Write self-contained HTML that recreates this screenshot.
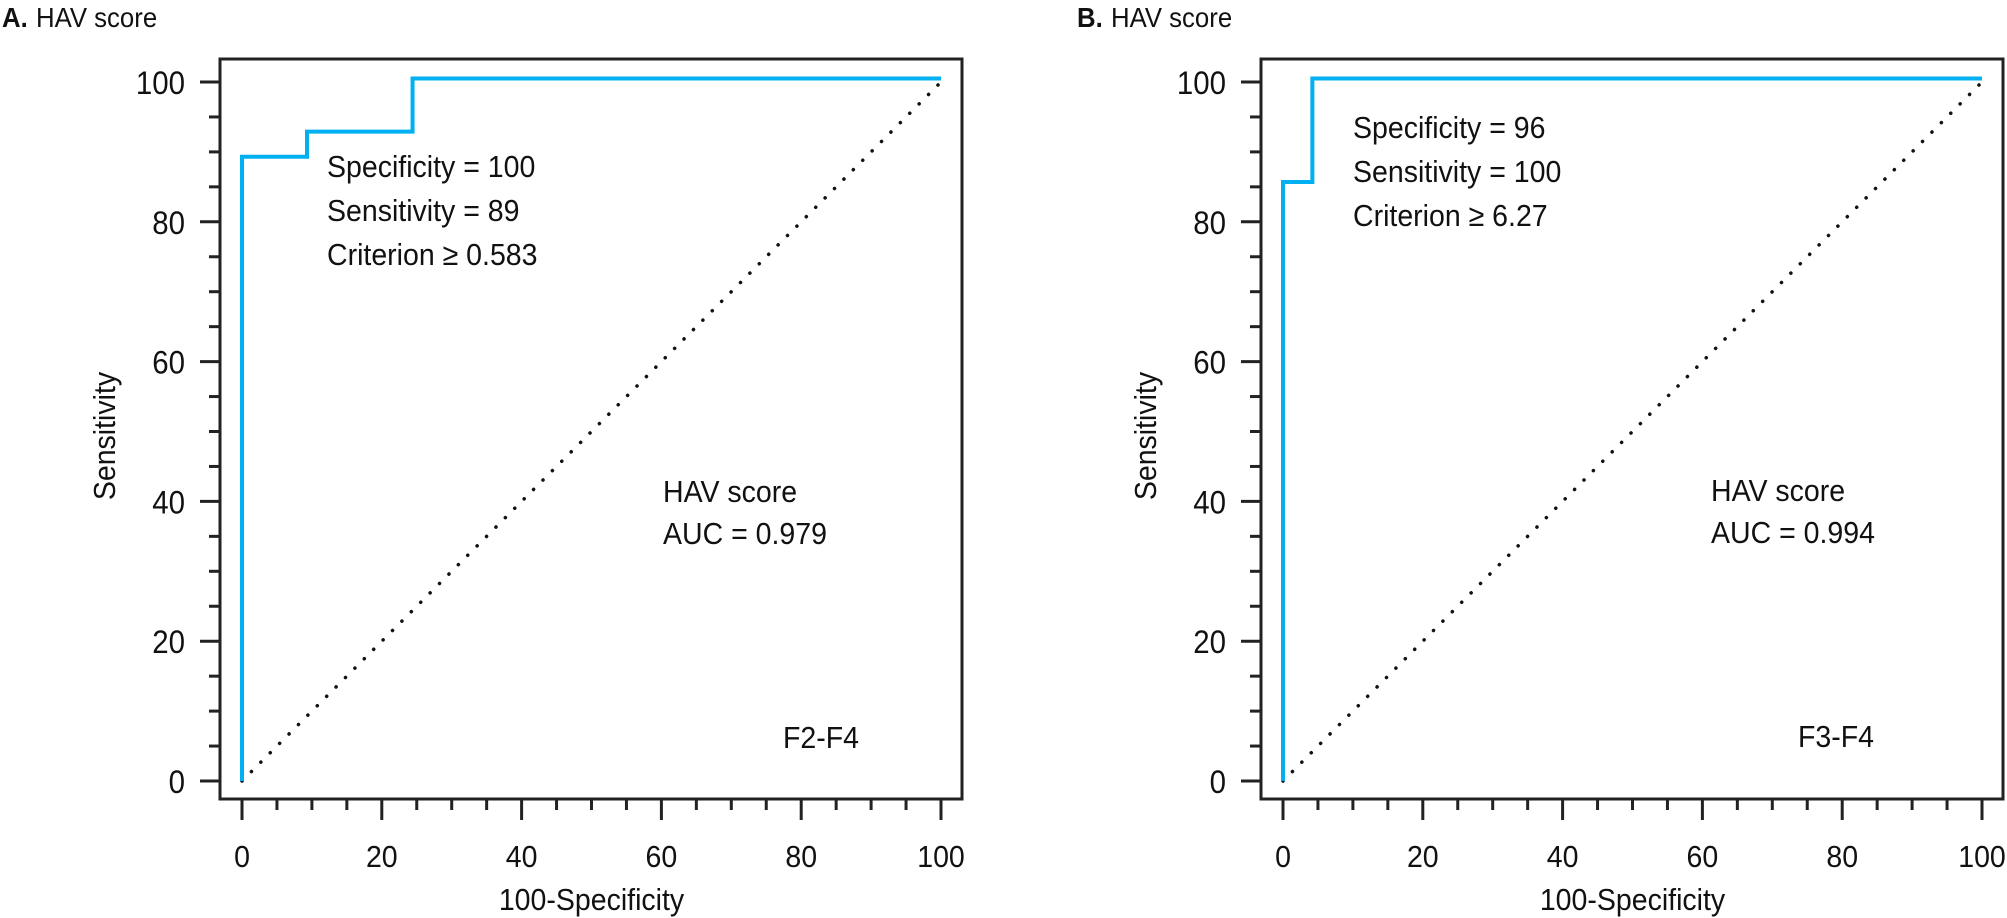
<!DOCTYPE html>
<html><head><meta charset="utf-8"><style>
html,body{margin:0;padding:0;background:#fff;}
svg{display:block;}
text{font-family:"Liberation Sans",sans-serif;fill:#111;}
</style></head>
<body>
<svg id="chart" width="2007" height="918" viewBox="0 0 2007 918" xmlns="http://www.w3.org/2000/svg"></svg>
<script>
// ---- data ----
const xTicks = [0, 20, 40, 60, 80, 100];
const yTicks = [0, 20, 40, 60, 80, 100];
const rocA_x = [0, 0, 9.3, 9.3, 24.4, 24.4, 100];
const rocA_y = [0, 89.3, 89.3, 92.9, 92.9, 100.5, 100.5];
const rocB_x = [0, 0, 4.2, 4.2, 100];
const rocB_y = [0, 85.7, 85.7, 100.5, 100.5];
const annotA = ["Specificity = 100", "Sensitivity = 89", "Criterion \u2265 0.583"];
const annotB = ["Specificity = 96", "Sensitivity = 100", "Criterion \u2265 6.27"];
const aucA = ["HAV score", "AUC = 0.979"];
const aucB = ["HAV score", "AUC = 0.994"];

const NS = "http://www.w3.org/2000/svg";
const svg = document.getElementById('chart');
function mk(tag, attrs, parent) {
  const e = document.createElementNS(NS, tag);
  for (const k in attrs) e.setAttribute(k, attrs[k]);
  (parent || svg).appendChild(e);
  return e;
}
function txt(g, s, x, y, size, anchor, weight) {
  const t = mk('text', {x: 0, y: 0, 'font-size': size, 'text-anchor': anchor || 'start',
    transform: 'translate(' + x + ',' + y + ') scale(0.92,1)'}, g);
  if (weight) t.setAttribute('font-weight', weight);
  t.textContent = s;
  return t;
}

function panel(off, label, rx, ry, annot, annotPos, auc, aucPos, grp, grpPos, titleX) {
  const g = mk('g', {});
  
  
  const x0 = 242 + off, x100 = 941 + off, y0 = 781, y100 = 82;
  const sx = v => x0 + (x100 - x0) * v / 100;
  const sy = v => y0 + (y100 - y0) * v / 100;
  const fl = 220 + off, fr = 962 + off, ft = 59, fb = 799;

  const tg = mk('g', {}, g);
  
  
  txt(tg, label + '.', titleX, 27, 28, 'start', 'bold');
  txt(tg, 'HAV score', titleX + 34, 27, 28);

  const fr_ = mk('rect', {x: fl, y: ft, width: fr - fl, height: fb - ft, fill: 'none', stroke: '#222', 'stroke-width': 3}, g);
  
  

  const d = mk('line', {x1: sx(0), y1: sy(0), x2: sx(100), y2: sy(100), stroke: '#111', 'stroke-width': 3.5,
    'stroke-linecap': 'round', 'stroke-dasharray': '0.1 13.2'}, g);
  
  

  const yg = mk('g', {}, g);
  
  
  for (let v = 0; v <= 100; v += 5) {
    const major = v % 20 === 0;
    mk('line', {x1: fl - (major ? 20 : 11), x2: fl, y1: sy(v), y2: sy(v), stroke: '#222', 'stroke-width': 3}, yg);
  }
  yTicks.forEach(v => {
    const t = txt(yg, String(v), fl - 35, sy(v) + 12, 32, 'end');
    
    
  });
  const yt = mk('text', {x: 0, y: 0, 'font-size': 31, 'text-anchor': 'middle',
    transform: 'translate(' + (115 + off) + ',436) rotate(-90) scale(0.92,1)'}, g);
  yt.textContent = 'Sensitivity';
  
  

  const xg = mk('g', {}, g);
  
  
  for (let v = 0; v <= 100; v += 5) {
    const major = v % 20 === 0;
    mk('line', {x1: sx(v), x2: sx(v), y1: fb, y2: fb + (major ? 21 : 11), stroke: '#222', 'stroke-width': 3}, xg);
  }
  xTicks.forEach(v => {
    const t = txt(xg, String(v), sx(v), 867, 31, 'middle');
    
    
  });
  const xt = txt(g, '100-Specificity', (x0 + x100) / 2, 910, 31, 'middle');
  
  

  const pts = rx.map((v, i) => sx(v) + ',' + sy(ry[i])).join(' ');
  const c = mk('polyline', {points: pts, fill: 'none', stroke: '#00b0f0', 'stroke-width': 4}, g);
  
  

  const ag = mk('g', {}, g);
  
  
  annot.forEach((s, i) => txt(ag, s, annotPos[0], annotPos[1] + i * 44, 31));
  const ug = mk('g', {}, g);
  
  
  auc.forEach((s, i) => txt(ug, s, aucPos[0], aucPos[1] + i * 42, 31));
  const gg = txt(g, grp, grpPos[0], grpPos[1], 31);
  
  
}

panel(0, 'A', rocA_x, rocA_y, annotA, [327, 177], aucA, [663, 502], 'F2-F4', [783, 748], 2);
panel(1041, 'B', rocB_x, rocB_y, annotB, [1353, 138], aucB, [1711, 501], 'F3-F4', [1798, 747], 1077);
</script>
</body></html>
